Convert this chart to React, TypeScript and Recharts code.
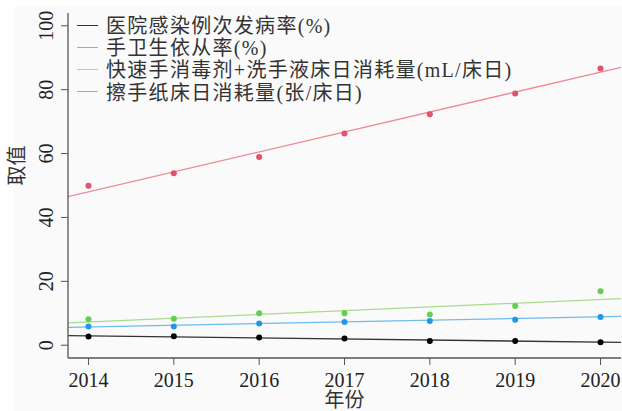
import React from "react";
import { ComposedChart, Line, Scatter, XAxis, YAxis } from "recharts";

const years = [2014, 2015, 2016, 2017, 2018, 2019, 2020];
const infectionRate = [2.7, 2.8, 2.4, 2.1, 1.3, 1.3, 0.9];
const complianceRate = [49.9, 53.8, 58.9, 66.3, 72.3, 78.8, 86.6];
const sanitizerUse = [8.1, 8.3, 10.0, 10.0, 9.6, 12.3, 16.9];
const paperUse = [5.9, 5.9, 6.8, 7.3, 7.6, 8.0, 8.8];

// fitted trend lines, endpoints read at the plot edges
const trendX = [2013.76, 2020.24];
const infectionTrend = [3.0, 0.9];
const complianceTrend = [46.5, 87.0];
const sanitizerTrend = [7.0, 14.6];
const paperTrend = [5.6, 9.0];

const yTicks = [0, 20, 40, 60, 80, 100];
const seriesNames = [
  "医院感染例次发病率(%)",
  "手卫生依从率(%)",
  "快速手消毒剂+洗手液床日消耗量(mL/床日)",
  "擦手纸床日消耗量(张/床日)",
];
const pointColors = ["#000000", "#DF536B", "#61D04F", "#2297E6"];
const lineColors = ["#333333", "#EE8A95", "#A8DC8C", "#6CBCEC"];

const valueSets = [infectionRate, complianceRate, sanitizerUse, paperUse];
const trendSets = [infectionTrend, complianceTrend, sanitizerTrend, paperTrend];

const pointData = valueSets.map((vals) => years.map((x, i) => ({ x, y: vals[i] })));
const trendData = trendSets.map((vals) => trendX.map((x, i) => ({ x, y: vals[i] })));

const FONT = "'Liberation Serif', 'Noto Sans CJK SC', serif";

const Dot = (props: any) => {
  const { cx, cy, fill } = props;
  if (cx == null || cy == null) return null;
  return <circle cx={cx} cy={cy} r={3} fill={fill} />;
};

const LegendBox = () => (
  <div
    style={{
      position: "absolute",
      left: 77,
      top: 14,
      fontFamily: FONT,
      fontSize: 20,
      color: "#333",
      lineHeight: "22.2px",
    }}
  >
    {seriesNames.map((n, i) => (
      <div key={n} style={{ display: "flex", alignItems: "center", whiteSpace: "nowrap", height: 22.2 }}>
        <span
          style={{
            display: "inline-block",
            width: 21,
            height: 0,
            borderTop: `1.3px solid ${lineColors[i]}`,
            marginRight: 8,
          }}
        />
        <span style={{ letterSpacing: "1.3px", position: "relative", top: 1 }}>{n}</span>
      </div>
    ))}
  </div>
);

export default function App() {
  return (
    <div style={{ position: "absolute", left: 0, top: 0, width: 622, height: 411, background: "#ffffff", overflow: "hidden" }}>
      <div style={{ position: "absolute", left: 14, top: 6, width: 608, height: 405, background: "#fafafa" }} />
      <div style={{ position: "absolute", left: 0, top: 0 }}>
        <ComposedChart width={622} height={411} margin={{ top: 13, right: 1, bottom: 0, left: 0 }}>
          <XAxis
            xAxisId="b"
            dataKey="x"
            type="number"
            domain={[2013.76, 2020.24]}
            ticks={years}
            allowDataOverflow
            height={53}
            stroke="#555"
            tickSize={7}
            tickLine={{ stroke: "#555" }}
            axisLine={{ stroke: "#555", strokeWidth: 1.3 }}
            tick={{ fill: "#222", fontSize: 20, fontFamily: FONT, dy: 6 }}
            label={{ value: "年份", position: "insideBottom", offset: 4, fill: "#333", fontSize: 20, fontFamily: FONT }}
          />
          <XAxis
            xAxisId="t"
            orientation="top"
            type="number"
            domain={[2013.76, 2020.24]}
            height={0}
            tick={false}
            tickLine={false}
            axisLine={{ stroke: "#555", strokeWidth: 1.3 }}
          />
          <YAxis
            yAxisId="l"
            type="number"
            domain={[-4, 104]}
            ticks={yTicks}
            allowDataOverflow
            width={68}
            tickSize={7}
            tickLine={{ stroke: "#555" }}
            axisLine={{ stroke: "#555", strokeWidth: 1.3 }}
            tick={(p: any) => (
              <text
                x={p.x - 6}
                y={p.y}
                transform={`rotate(-90 ${p.x - 6} ${p.y})`}
                textAnchor="middle"
                fill="#222"
                fontSize={20}
                fontFamily={FONT}
              >
                {p.payload.value}
              </text>
            )}
            label={{
              value: "取值",
              angle: -90,
              position: "insideLeft",
              offset: 17,
              fill: "#333",
              fontSize: 20,
              fontFamily: FONT,
            }}
          />
          <YAxis
            yAxisId="r"
            orientation="right"
            type="number"
            domain={[-4, 104]}
            width={0}
            tick={false}
            tickLine={false}
            axisLine={{ stroke: "#555", strokeWidth: 1.3 }}
          />
          {trendData.map((d, i) => (
            <Line
              key={"t" + i}
              xAxisId="b"
              yAxisId="l"
              data={d}
              dataKey="y"
              stroke={lineColors[i]}
              strokeWidth={1.3}
              dot={false}
              activeDot={false}
              legendType="none"
              isAnimationActive={false}
            />
          ))}
          {pointData.map((d, i) => (
            <Scatter
              key={"p" + i}
              xAxisId="b"
              yAxisId="l"
              data={d}
              dataKey="y"
              fill={pointColors[i]}
              shape={<Dot />}
              legendType="none"
              isAnimationActive={false}
            />
          ))}
        </ComposedChart>
      </div>
      <LegendBox />
    </div>
  );
}
